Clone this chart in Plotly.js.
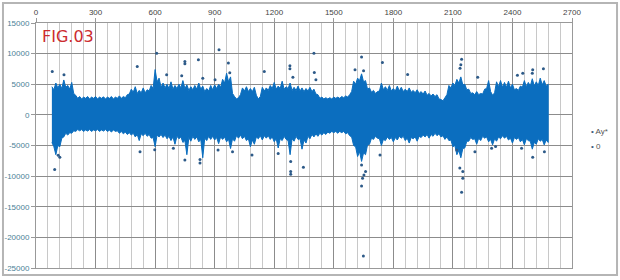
<!DOCTYPE html>
<html>
<head>
<meta charset="utf-8">
<script src="https://cdn.plot.ly/plotly-3.0.1.min.js"></script>
<style>
html,body{margin:0;padding:0;background:#fff;}
#chart{width:620px;height:280px;}
</style>
</head>
<body>
<div id="chart"></div>
<script>
// Envelope peaks of the dense "Ay*" band
const envX = [80,100,120,140,160,180,200,220,240,260,280,300,320,340,360,380,400,420,440,460,
  480,500,520,540,560,580,600,620,640,660,680,700,720,740,760,780,800,820,840,860,
  880,900,920,940,960,980,1000,1020,1040,1060,1080,1100,1120,1140,1160,1180,1200,1220,1240,1260,
  1280,1300,1320,1340,1360,1380,1400,1420,1440,1460,1480,1500,1520,1540,1560,1580,1600,1620,1640,1660,
  1680,1700,1720,1740,1760,1780,1800,1820,1840,1860,1880,1900,1920,1940,1960,1980,2000,2020,2040,2060,
  2080,2100,2120,2140,2160,2180,2200,2220,2240,2260,2280,2300,2320,2340,2360,2380,2400,2420,2440,2460,
  2480,2500,2520,2540,2560,2580];
const envTop = [4600,5200,5000,5700,4800,5300,3200,3000,2900,3000,2900,3000,2900,2950,2900,3000,2900,3100,3000,3300,
  4200,4600,4000,4400,4100,4800,7400,6000,5200,5000,5400,4800,5000,5600,4900,4600,4800,5200,4700,4300,
  4800,4900,5000,5800,6800,6200,3000,2800,4400,4600,4300,4500,2600,4500,4400,4800,5300,4700,5500,4600,
  5200,4500,4700,4400,4300,4500,4200,3300,2900,2800,2800,2900,2900,3000,3100,3300,5500,6000,6700,5600,
  4400,4000,3800,5200,4600,4800,4300,4700,4500,4200,4400,4000,4100,3800,3900,3500,3400,3300,2500,2800,
  4800,5200,5800,6200,5000,4200,3600,3800,3500,4200,5600,3200,5400,5600,5300,5500,5000,4300,4700,5600,
  5300,5900,5400,6000,5600,5000];
const envBottom = [-4500,-6500,-5200,-3600,-3300,-3000,-2700,-2600,-2700,-2650,-2700,-2600,-2700,-2650,-2700,-2800,-2700,-3000,-3100,-3200,
  -3300,-3600,-4200,-3400,-3500,-3800,-5200,-3600,-3700,-3900,-4200,-4800,-3900,-4500,-6500,-4300,-4000,-4400,-7000,-4200,
  -4000,-4100,-4700,-4000,-4400,-5500,-4300,-3800,-3900,-4200,-5200,-4800,-3900,-4100,-3800,-4000,-4400,-5400,-4200,-4000,
  -6500,-4300,-4000,-5600,-4600,-3900,-3600,-3500,-3300,-3200,-3000,-2900,-3000,-2900,-3100,-3400,-5000,-6800,-7600,-6500,
  -4800,-4000,-3800,-5000,-4200,-4000,-4400,-4100,-3800,-4200,-4600,-3900,-4300,-3700,-3600,-3800,-3500,-3400,-3600,-4000,
  -4200,-5200,-6500,-7000,-5400,-4300,-4000,-4800,-4200,-3800,-4400,-4900,-4300,-3900,-3800,-4100,-4600,-4000,-4400,-4900,
  -4200,-5600,-4800,-4300,-4900,-4500];
// Notches between the peaks of the band edge
const midX = [90,110,130,150,170,190,210,230,250,270,290,310,330,350,370,390,410,430,450,470,
  490,510,530,550,570,590,610,630,650,670,690,710,730,750,770,790,810,830,850,870,
  890,910,930,950,970,990,1010,1030,1050,1070,1090,1110,1130,1150,1170,1190,1210,1230,1250,1270,
  1290,1310,1330,1350,1370,1390,1410,1430,1450,1470,1490,1510,1530,1550,1570,1590,1610,1630,1650,1670,
  1690,1710,1730,1750,1770,1790,1810,1830,1850,1870,1890,1910,1930,1950,1970,1990,2010,2030,2050,2070,
  2090,2110,2130,2150,2170,2190,2210,2230,2250,2270,2290,2310,2330,2350,2370,2390,2410,2430,2450,2470,
  2490,2510,2530,2550,2570];
const midTop = [4100,4400,4300,4500,4200,3500,2700,2600,2700,2600,2700,2600,2700,2600,2700,2600,2700,2700,2800,3400,
  3700,3500,3600,3600,3900,4300,5400,4500,4400,4300,4200,4300,4400,4300,4000,4100,4200,4200,3800,3900,
  4100,4300,4500,5200,5400,3500,2600,3300,3900,3800,3800,3200,3000,3900,4000,4300,4200,4300,4200,4300,
  4000,4000,3900,3800,3900,3800,3400,2700,2600,2600,2600,2700,2700,2800,2900,3800,5000,5600,5400,4200,
  3700,3500,3900,4100,4000,3900,3900,3900,3800,3800,3700,3600,3500,3400,3200,3100,3000,2600,2300,3300,
  4400,4800,5200,4900,4100,3500,3300,3300,3400,4300,3800,3600,4600,4500,4500,4400,4100,4000,4500,4600,
  4700,4700,4800,4900,4700];
const midBottom = [-5200,-5000,-3800,-3000,-2900,-2600,-2400,-2400,-2450,-2400,-2450,-2400,-2450,-2400,-2500,-2450,-2600,-2700,-2800,-2900,
  -3000,-3200,-3100,-3000,-3200,-3700,-3300,-3200,-3300,-3500,-3600,-3500,-3600,-4200,-3700,-3500,-3600,-4000,-3800,-3500,
  -3500,-3700,-3600,-3600,-4000,-3900,-3400,-3300,-3500,-3900,-4100,-3600,-3400,-3400,-3400,-3600,-3900,-3900,-3500,-4200,
  -3900,-3500,-3900,-4100,-3500,-3200,-3100,-3000,-2900,-2800,-2700,-2700,-2700,-2700,-2900,-3600,-5200,-6000,-6200,-4900,
  -3800,-3500,-3900,-4000,-3600,-3700,-3700,-3500,-3500,-3800,-3700,-3600,-3500,-3300,-3200,-3200,-3000,-3100,-3400,-3600,
  -4100,-5000,-5800,-5500,-4300,-3700,-3900,-3800,-3500,-3600,-4000,-3900,-3600,-3400,-3500,-3800,-3700,-3700,-4000,-3900,
  -4300,-4500,-3900,-4000,-4100];
// Isolated "Ay*" points outside the band
const outX = [82,141,94,112,120,510,608,658,734,750,750,818,840,902,922,969,976,1150,1279,1279,1294,1400,1402,1410,
  1607,1640,1650,1745,1872,2144,2140,2136,2225,2425,2452,2502,2556,2500,
  524,598,692,750,826,826,917,990,1088,1220,1283,1283,1283,1347,1640,1660,1652,1645,1640,1649,1733,
  2119,2135,2150,2150,2144,2211,2295,2315,2446,2502,2561];
const outY = [7080,6540,-8900,-6600,-6900,7900,10080,6540,6370,8700,8330,8990,6000,5720,10620,8450,6870,7080,8010,7520,6150,10080,6920,5720,
  7350,9430,7200,8550,6590,9100,8170,7630,6150,6480,6810,7350,7520,6800,
  -6000,-5700,-5450,-7350,-7840,-7300,-5720,-6000,-6540,-6300,-7630,-9260,-9690,-8550,-8170,-9260,-9800,-10350,-11600,-23040,-6540,
  -5720,-8660,-9260,-10350,-12630,-6000,-5450,-5180,-5450,-6920,-6000];
const seriesNames = ["Ay*", "0"];
const xTickVals = [0,300,600,900,1200,1500,1800,2100,2400,2700];
const yTickVals = [15000,10000,5000,0,-5000,-10000,-15000,-20000,-25000];
const yTickText = ["15000","10000","5000","0","-5000","-10000","-15000","-20000","-25000"];

// merge peaks and notches along x
const bandX = [], bandTop = [], bandBottom = [];
for (let i = 0; i < envX.length; i++) {
  bandX.push(envX[i]); bandTop.push(envTop[i]); bandBottom.push(envBottom[i]);
  if (i < midX.length) { bandX.push(midX[i]); bandTop.push(midTop[i]); bandBottom.push(midBottom[i]); }
}

const blue = "#0b6ebf";
const traces = [
  {
    x: bandX.concat(bandX.slice().reverse()),
    y: bandTop.concat(bandBottom.slice().reverse()),
    type: "scatter", mode: "lines", fill: "toself",
    fillcolor: blue, line: {color: blue, width: 1},
    showlegend: false, hoverinfo: "skip"
  },
  {
    x: outX, y: outY, type: "scatter", mode: "markers", name: seriesNames[0],
    marker: {color: "#2d5a88", size: 3}, showlegend: false
  }
];

const layout = {
  width: 620, height: 280,
  margin: {l: 36, r: 48, t: 23, b: 12},
  paper_bgcolor: "#fff", plot_bgcolor: "#fff",
  font: {family: "Liberation Sans, Arial, sans-serif", size: 8, color: "#444"},
  showlegend: false,
  xaxis: {
    side: "top", range: [0, 2700], tickvals: xTickVals,
    showgrid: true, gridcolor: "#8c8c8c", gridwidth: 1,
    minor: {dtick: 60, tick0: 0, showgrid: true, gridcolor: "#c8c8c8", gridwidth: 1},
    zeroline: false, showline: true, linecolor: "#999", mirror: true,
    ticks: "outside", ticklen: 4, tickcolor: "#999",
    tickfont: {size: 8, color: "#444"}
  },
  yaxis: {
    range: [-25000, 15000], tickvals: yTickVals, ticktext: yTickText,
    showgrid: true, gridcolor: "#8c8c8c", gridwidth: 1,
    zeroline: false, showline: true, linecolor: "#999", mirror: true,
    ticks: "outside", ticklen: 4, tickcolor: "#999",
    tickfont: {size: 8, color: "#4a7f96"}
  },
  annotations: [
    {
      text: "FIG.03", xref: "paper", yref: "paper", x: 0.008, y: 0.945,
      xanchor: "left", yanchor: "middle", showarrow: false,
      font: {family: "DejaVu Sans", size: 16, color: "#cc2b2e"}
    },
    {
      text: "<span style='color:#3c5c7c'>•</span> " + seriesNames[0], xref: "paper", yref: "paper",
      x: 1.031, y: 0.559, xanchor: "left", yanchor: "middle", showarrow: false,
      font: {size: 8, color: "#555"}
    },
    {
      text: "<span style='color:#3c5c7c'>•</span> " + seriesNames[1], xref: "paper", yref: "paper",
      x: 1.031, y: 0.494, xanchor: "left", yanchor: "middle", showarrow: false,
      font: {size: 8, color: "#555"}
    }
  ],
  shapes: [{
    type: "rect", xref: "paper", yref: "paper",
    x0: -0.0616, x1: 1.084, y0: -0.0286, y1: 1.0816,
    line: {color: "#b5b5b5", width: 2}
  }]
};

Plotly.newPlot("chart", traces, layout, {staticPlot: true, displayModeBar: false});
</script>
</body>
</html>
